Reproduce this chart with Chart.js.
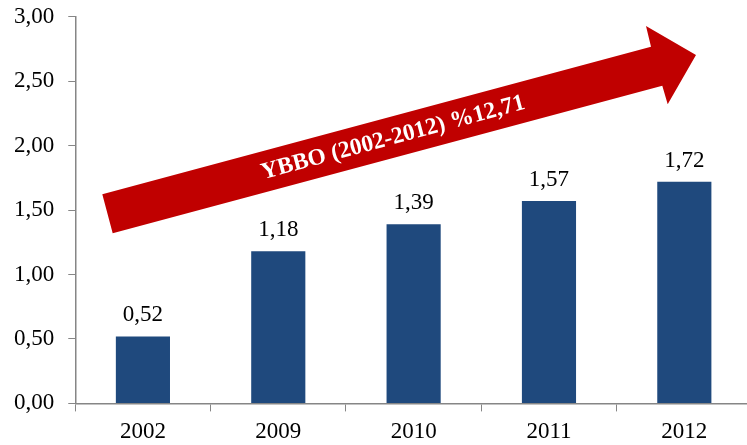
<!DOCTYPE html>
<html>
<head>
<meta charset="utf-8">
<script src="https://cdn.jsdelivr.net/npm/chart.js@4.4.1/dist/chart.umd.min.js"></script>
<style>
  html, body { margin: 0; padding: 0; background: #fff; overflow: hidden; }
  #wrap { width: 752px; height: 464px; margin-top: -11px; }
</style>
</head>
<body>
<div id="wrap"><canvas id="myChart"></canvas></div>
<script>
var years = ['2002', '2009', '2010', '2011', '2012'];
var values = [0.52, 1.18, 1.39, 1.57, 1.72];
var yTicks = [0, 0.5, 1, 1.5, 2, 2.5, 3];
var arrowText = 'YBBO (2002-2012) %12,71';

function trNum(v) {
  return v.toFixed(2).replace('.', ',');
}

var serif = "'Liberation Serif', 'Times New Roman', serif";
var shiftY = 11; // canvas is pulled up by this much in the css

// value labels over the bars
var barLabels = {
  id: 'barLabels',
  afterDatasetsDraw: function(chart) {
    var ctx = chart.ctx;
    var meta = chart.getDatasetMeta(0);
    ctx.save();
    ctx.font = '23px ' + serif;
    ctx.fillStyle = '#000';
    ctx.textAlign = 'center';
    ctx.textBaseline = 'alphabetic';
    meta.data.forEach(function(bar, i) {
      ctx.fillText(trNum(values[i]), bar.x, bar.y - 15);
    });
    ctx.restore();
  }
};

// the red growth arrow (annotation)
var growthArrow = {
  id: 'growthArrow',
  afterDraw: function(chart) {
    var ctx = chart.ctx;
    var pts = [[102.3, 194.3], [651, 46.7], [646, 26], [696, 55],
               [667.7, 104.3], [662.3, 85.7], [112.7, 233.3]];
    ctx.save();
    ctx.translate(0, shiftY);
    ctx.beginPath();
    ctx.moveTo(pts[0][0], pts[0][1]);
    for (var i = 1; i < pts.length; i++) ctx.lineTo(pts[i][0], pts[i][1]);
    ctx.closePath();
    ctx.fillStyle = '#C00000';
    ctx.fill();

    var ang = Math.atan2(46.7 - 194.3, 651 - 102.3);
    ctx.translate(393, 138);
    ctx.rotate(ang);
    ctx.font = 'bold 23.5px ' + serif;
    ctx.fillStyle = '#fff';
    ctx.textAlign = 'center';
    ctx.textBaseline = 'middle';
    ctx.fillText(arrowText, 0, 0);
    ctx.restore();
  }
};

var ctx = document.getElementById('myChart').getContext('2d');
var barChart = new Chart(ctx, {
  type: 'bar',
  data: {
    labels: years,
    datasets: [{
      data: values,
      backgroundColor: '#1F497D',
      categoryPercentage: 1,
      barPercentage: 0.4
    }]
  },
  options: {
    responsive: true,
    maintainAspectRatio: false,
    animation: false,
    layout: { padding: { top: 0, left: 0, right: 0, bottom: 0 } },
    plugins: {
      legend: { display: false },
      tooltip: { enabled: false }
    },
    scales: {
      x: {
        grid: { drawOnChartArea: false, drawTicks: true, tickLength: 8, color: '#868686' },
        border: { color: '#868686', width: 1.5 },
        ticks: { color: '#000', font: { family: serif, size: 23 }, padding: 7 }
      },
      y: {
        min: 0,
        max: 3,
        afterBuildTicks: function(axis) {
          axis.ticks = yTicks.map(function(v) { return { value: v }; });
        },
        grid: { drawOnChartArea: false, drawTicks: true, tickLength: 7, color: '#868686' },
        border: { color: '#868686', width: 1.5 },
        ticks: {
          color: '#000',
          font: { family: serif, size: 23 },
          padding: 14,
          callback: function(v) { return trNum(v); }
        }
      }
    }
  },
  plugins: [barLabels, growthArrow]
});
</script>
</body>
</html>
